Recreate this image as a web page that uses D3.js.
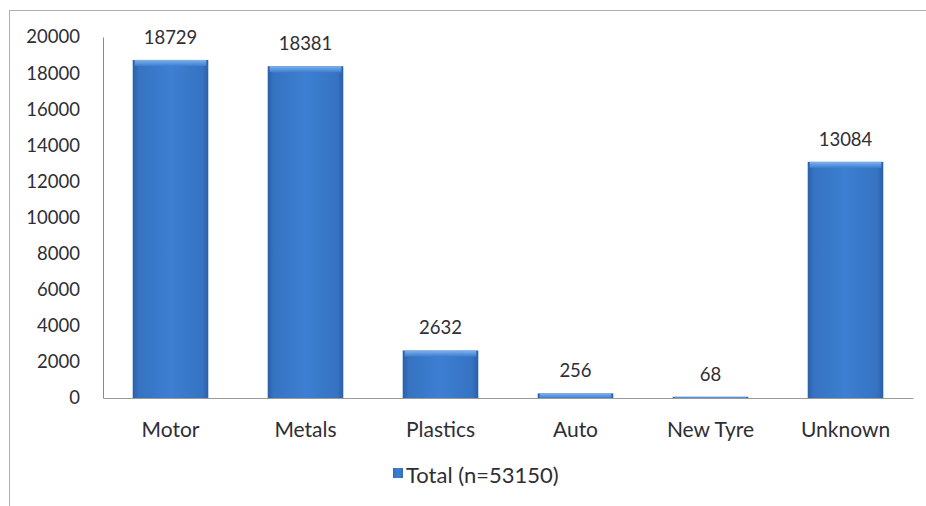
<!DOCTYPE html>
<html>
<head>
<meta charset="utf-8">
<script src="https://cdn.jsdelivr.net/npm/d3@7"></script>
<style>
    body { margin: 0; background: #fff; }
    text { font-family: Lato, "Open Sans", sans-serif; fill: #2e2e36; }
</style>
</head>
<body>
<div id="chart"></div>
<script>
// values
const categories = ['Motor', 'Metals', 'Plastics', 'Auto', 'New Tyre', 'Unknown'];
const totals = [18729, 18381, 2632, 256, 68, 13084];
const yTicks = [0, 2000, 4000, 6000, 8000, 10000, 12000, 14000, 16000, 18000, 20000];
const legendLabel = 'Total (n=53150)';

const config = {
    width: 926,
    height: 506,
    left: 103,
    right: 913,
    top: 37,
    bottom: 398
};

const svg = d3.select('#chart')
    .append('svg')
    .attr('width', config.width)
    .attr('height', config.height);

// bar gradients
const defs = svg.append('defs');
const side = defs.append('linearGradient')
    .attr('id', 'barSide')
    .attr('x1', 0).attr('x2', 1).attr('y1', 0).attr('y2', 0);
side.append('stop').attr('offset', '0%').attr('stop-color', '#2b5fa8');
side.append('stop').attr('offset', '8%').attr('stop-color', '#3673c2');
side.append('stop').attr('offset', '50%').attr('stop-color', '#3d7fd2');
side.append('stop').attr('offset', '92%').attr('stop-color', '#3673c2');
side.append('stop').attr('offset', '100%').attr('stop-color', '#2b5fa8');

const topBevel = defs.append('linearGradient')
    .attr('id', 'barTop')
    .attr('x1', 0).attr('x2', 0).attr('y1', 0).attr('y2', 1);
topBevel.append('stop').attr('offset', '0%').attr('stop-color', '#7fb2ea');
topBevel.append('stop').attr('offset', '100%').attr('stop-color', '#3d7fd2');

// outer frame (right and bottom edges fall outside the picture)
svg.append('rect')
    .attr('x', 9.5).attr('y', 10.5)
    .attr('width', 930).attr('height', 520)
    .attr('fill', 'none')
    .attr('stroke', '#b0b0b0');

const x = d3.scaleBand()
    .domain(categories)
    .range([config.left, config.right])
    .paddingInner(0.44)
    .paddingOuter(0.22);

const y = d3.scaleLinear()
    .domain([0, 20000])
    .range([config.bottom, config.top]);

// y axis
const yAxis = svg.append('g')
    .attr('transform', `translate(${config.left}, 0)`)
    .call(d3.axisLeft(y).tickValues(yTicks).tickFormat(d3.format('d')).tickSize(0).tickPadding(23));
yAxis.select('.domain').attr('stroke', '#888');
yAxis.selectAll('text')
    .style('font-size', '18.5px')
    .attr('fill', '#2e2e36');

// bars
const bars = svg.selectAll('.bar')
    .data(totals)
    .enter()
    .append('g')
    .attr('class', 'bar');

bars.append('rect')
    .attr('x', (d, i) => x(categories[i]))
    .attr('y', d => y(d))
    .attr('width', x.bandwidth())
    .attr('height', d => config.bottom - y(d))
    .attr('fill', 'url(#barSide)');

bars.append('rect')
    .attr('x', (d, i) => x(categories[i]) + 2)
    .attr('y', d => y(d))
    .attr('width', x.bandwidth() - 4)
    .attr('height', d => Math.min(6, config.bottom - y(d)))
    .attr('fill', 'url(#barTop)');

// value labels
bars.append('text')
    .attr('x', (d, i) => x(categories[i]) + x.bandwidth() / 2)
    .attr('y', d => y(d) - 16)
    .attr('text-anchor', 'middle')
    .style('font-size', '18.5px')
    .text(d => d);

// x axis
const xAxis = svg.append('g')
    .attr('transform', `translate(0, ${config.bottom})`)
    .call(d3.axisBottom(x).tickSize(0).tickPadding(24));
xAxis.select('.domain').attr('stroke', '#999');
xAxis.selectAll('text')
    .style('font-size', '21px')
    .attr('fill', '#2e2e36');

// legend
const legend = svg.append('g')
    .attr('transform', 'translate(393, 468)');
legend.append('rect')
    .attr('width', 10).attr('height', 10)
    .attr('fill', 'url(#barSide)');
legend.append('text')
    .attr('x', 13)
    .attr('y', 7)
    .attr('dy', '0.35em')
    .style('font-size', '22px')
    .text(legendLabel);
</script>
</body>
</html>
